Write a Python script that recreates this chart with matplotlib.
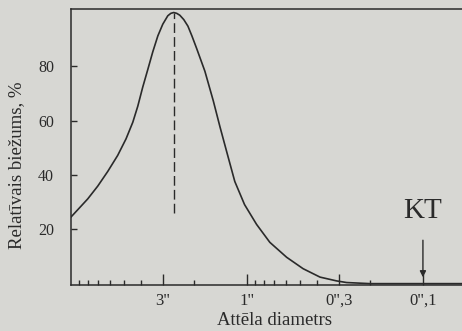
import numpy as np
import matplotlib
matplotlib.use("Agg")
import matplotlib.pyplot as plt

# image diameter (arcsec) vs relative frequency (%)
diam = [10.0, 9.12, 8.0, 7.02, 6.16, 5.41, 4.85, 4.44, 4.16, 3.90, 3.65, 3.42,
        3.20, 3.0, 2.81, 2.70, 2.60, 2.50, 2.40, 2.28, 2.16, 2.05, 1.93, 1.73,
        1.55, 1.42, 1.30, 1.17, 1.03, 0.88, 0.74, 0.594, 0.479, 0.384, 0.309,
        0.271, 0.2, 0.1, 0.06]
freq = [24.4, 27.2, 31.2, 35.9, 41.3, 47.2, 53.3, 59.4, 65.3, 72.3, 78.8, 85.3,
        91.2, 95.5, 98.6, 99.5, 99.8, 99.5, 98.8, 97.2, 94.8, 91.2, 86.7, 78.2,
        67.3, 57.7, 48.5, 37.6, 29.1, 21.8, 15.2, 9.7, 5.5, 2.4, 1.0,
        0.4, 0.0, 0.0, 0.0]

peak_x = 2.6
peak_y = 99.8
dash_bottom = 26

major_ticks = [3, 1, 0.3, 0.1]
major_labels = ['3"', '1"', '0",3', '0",1']
minor_ticks = [9, 8, 7, 6, 5, 4, 2, 0.9, 0.8, 0.7, 0.6, 0.5, 0.4, 0.2]
y_ticks = [20, 40, 60, 80]

kt_x = 0.1
kt_label = "KT"

bg = "#d7d7d3"
ink = "#2a2a2a"

plt.rcParams["font.family"] = ["Liberation Serif", "DejaVu Serif"]

fig = plt.figure(figsize=(4.62, 3.31), dpi=100, facecolor=bg)
ax = fig.add_axes([0.153, 0.139, 0.847, 0.833])
ax.set_facecolor(bg)

ax.plot(diam, freq, color=ink, lw=1.2, solid_joinstyle="round")
ax.plot([peak_x, peak_x], [dash_bottom, peak_y], color=ink, lw=1.0,
        dashes=(7, 3))

ax.set_xscale("log")
ax.set_xlim(10, 0.06)
ax.set_ylim(-0.5, 101)

ax.set_xticks(major_ticks)
ax.set_xticklabels(major_labels)
ax.set_xticks(minor_ticks, minor=True)
ax.xaxis.set_minor_formatter(plt.NullFormatter())
ax.set_yticks(y_ticks)

ax.tick_params(axis="x", which="major", direction="in", length=8, width=1.0,
               colors=ink, labelsize=12, pad=5.5)
ax.tick_params(axis="x", which="minor", direction="in", length=3.5, width=1.0,
               colors=ink)
ax.tick_params(axis="y", direction="in", length=4, width=1.0, colors=ink,
               labelsize=11.5, pad=12)

for s in ["left", "top", "bottom"]:
    ax.spines[s].set_color(ink)
    ax.spines[s].set_linewidth(1.1)
ax.spines["right"].set_visible(False)

ax.set_xlabel("Attēla diametrs", fontsize=13.5, color=ink)
ax.xaxis.set_label_coords(0.522, -0.098)
ax.set_ylabel("Relatīvais biežums, %", fontsize=13.5, color=ink)
ax.yaxis.set_label_coords(-0.117, 0.435)

ax.text(kt_x, 24, kt_label, fontsize=21, color=ink, ha="center", va="baseline")
ax.annotate("", xy=(kt_x, 1.3), xytext=(kt_x, 17),
            arrowprops=dict(arrowstyle="-|>", color=ink, lw=1.0,
                            mutation_scale=9))

fig.savefig("out.png", dpi=100, facecolor=bg)
